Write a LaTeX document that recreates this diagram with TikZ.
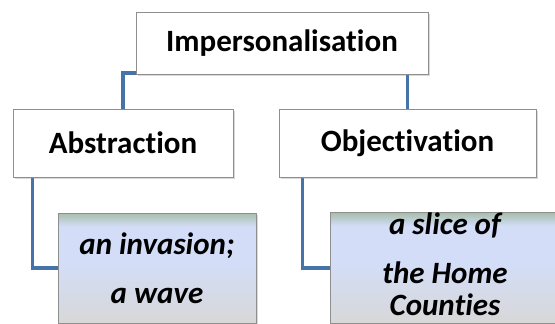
\documentclass[tikz,border=0pt]{standalone}
\usepackage{fontspec}
\setmainfont{Carlito}[Ligatures=NoCommon]
\usepackage{tikz}
\usetikzlibrary{positioning,shadows,backgrounds,calc}
\definecolor{connblue}{HTML}{4673AA}
\definecolor{boxgray}{HTML}{8E8E8E}
\definecolor{leafgreen}{HTML}{A8BEAB}
\definecolor{leafblue}{HTML}{D3DDF7}
\definecolor{leafgray}{HTML}{D7D8DA}
\pgfdeclareverticalshading{leafshade}{100bp}{color(0bp)=(leafgray); color(27bp)=(leafgray);
  color(52bp)=(leafblue); color(69bp)=(leafblue); color(75bp)=(leafgreen); color(100bp)=(leafgreen)}

\begin{document}
\begin{tikzpicture}[x=1pt,y=-1pt,
    box/.style={rectangle,draw=boxgray,fill=white,line width=0.8pt,align=center,
                font=\fontsize{31}{37}\selectfont\bfseries,inner sep=0pt,
                drop shadow={shadow xshift=2pt,shadow yshift=-2pt,opacity=0.3}},
    leaf/.style={rectangle,draw=boxgray,shading=leafshade,line width=0.8pt,align=center,
                 font=\fontsize{31}{37}\selectfont\bfseries\itshape,inner sep=0pt,
                 drop shadow={shadow xshift=2pt,shadow yshift=-2pt,opacity=0.3}},
    conn/.style={connblue,line width=3.5pt},
  ]
  \useasboundingbox (0,0) rectangle (555,324);
  \clip (0,0) rectangle (555,324);

  \node[box,minimum width=292pt,minimum height=62pt] (imp) at (282,43)   {Impersonalisation};
  \node[box,minimum width=220pt,minimum height=68pt] (abs) at (123,143)  {Abstraction};
  \node[box,minimum width=257pt,minimum height=68pt] (obj) at (407.5,143){Objectivation};

  \node[leaf,minimum width=198pt,minimum height=110pt] (absleaf) at (157,268)
       {an invasion;\\[12pt]a wave};
  \node[leaf,minimum width=230pt,minimum height=110pt] (objleaf) at (445,268)
       {a slice of\\[12pt]the Home\\[-5pt]Counties\rule[-8pt]{0pt}{0pt}};

  \begin{scope}[on background layer]
    \draw[conn] ([yshift=1.5pt]imp.south west) -| (abs.north);
    \draw[conn] (imp.south -| obj.north) -- (obj.north);
    \draw[conn] ([xshift=20pt]abs.south west) |- (absleaf.west);
    \draw[conn] ([xshift=24pt]obj.south west) |- (objleaf.west);
  \end{scope}
\end{tikzpicture}
\end{document}
